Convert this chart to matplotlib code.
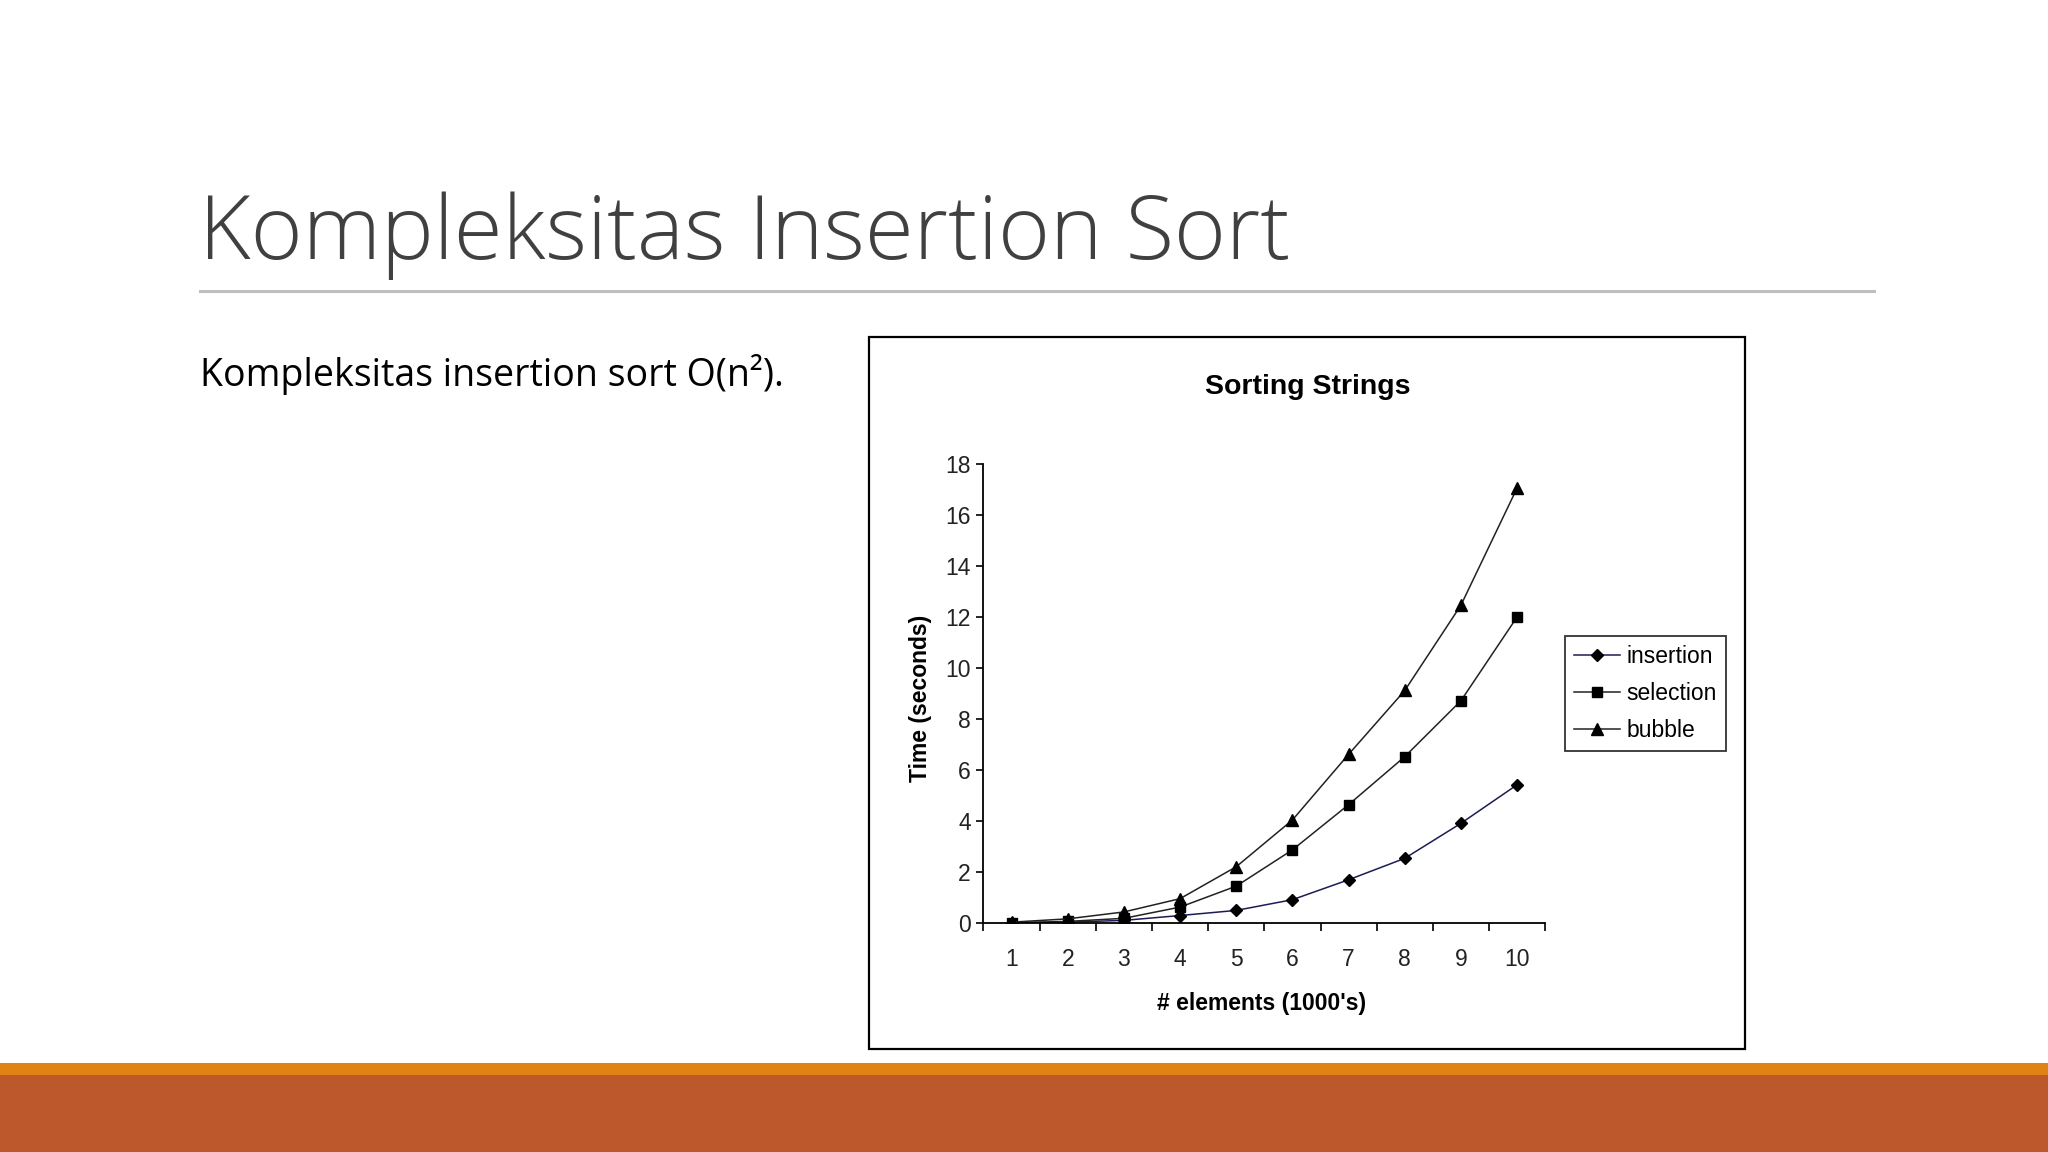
import matplotlib
matplotlib.use("Agg")
import matplotlib.pyplot as plt
from matplotlib.patches import Rectangle
from matplotlib.ticker import MultipleLocator, FixedLocator

# data
n_elements = [1, 2, 3, 4, 5, 6, 7, 8, 9, 10]
insertion = [0.02, 0.05, 0.12, 0.31, 0.51, 0.93, 1.71, 2.55, 3.92, 5.43]
selection = [0.03, 0.08, 0.20, 0.64, 1.46, 2.88, 4.65, 6.53, 8.72, 12.0]
bubble = [0.05, 0.18, 0.45, 0.97, 2.22, 4.05, 6.62, 9.12, 12.46, 17.05]

slide_title = "Kompleksitas Insertion Sort"
body_text = "Kompleksitas insertion sort O(n\u00b2)."

fig = plt.figure(figsize=(20.48, 11.52), dpi=100)
fig.patch.set_facecolor("white")

# slide decoration
fig.text(0.097, 0.7755, slide_title, fontsize=64, family="Open Sans",
         weight="light", color="#404040", va="baseline", ha="left")
fig.add_artist(plt.Line2D([0.0976, 0.9152], [0.7474, 0.7474],
                          color="#bfbfbf", lw=2.2, transform=fig.transFigure))
fig.text(0.0976, 0.6645, body_text, fontsize=27, family="Open Sans",
         color="black", va="baseline", ha="left")
fig.add_artist(Rectangle((0, 0.0668), 1, 0.0105, transform=fig.transFigure,
                         facecolor="#E08314", edgecolor="none"))
fig.add_artist(Rectangle((0, 0), 1, 0.0668, transform=fig.transFigure,
                         facecolor="#BC582C", edgecolor="none"))

# embedded chart frame
fig.add_artist(Rectangle((0.4241, 0.0896), 0.4279, 0.6179, transform=fig.transFigure,
                         facecolor="white", edgecolor="black", lw=1.6, zorder=0))

chart_font = "Liberation Sans"
ax = fig.add_axes([0.4802, 0.1984, 0.2743, 0.3991])
ax.plot(n_elements, insertion, color="#1c1c55", lw=1.1, marker="D", ms=6,
        mfc="black", mec="black", label="insertion")
ax.plot(n_elements, selection, color="#222222", lw=1.1, marker="s", ms=7.5,
        mfc="black", mec="black", label="selection")
ax.plot(n_elements, bubble, color="#222222", lw=1.1, marker="^", ms=8.5,
        mfc="black", mec="black", label="bubble")

ax.set_xlim(0.5, 10.5)
ax.set_ylim(0, 18)
ax.yaxis.set_major_locator(MultipleLocator(2))
ax.xaxis.set_major_locator(FixedLocator(n_elements))
ax.xaxis.set_minor_locator(FixedLocator([x + 0.5 for x in range(0, 11)]))
ax.tick_params(axis="x", which="major", length=0, pad=18)
ax.tick_params(axis="x", which="minor", length=6, width=1.2, direction="out")
ax.tick_params(axis="y", which="major", length=5, width=1.2, direction="out", pad=4)
for lab in ax.get_xticklabels() + ax.get_yticklabels():
    lab.set_fontfamily(chart_font)
    lab.set_fontsize(16.5)
    lab.set_color("#222222")
for side in ("top", "right"):
    ax.spines[side].set_visible(False)
for side in ("left", "bottom"):
    ax.spines[side].set_linewidth(1.3)
ax.set_facecolor("none")

ax.set_ylabel("Time (seconds)", fontsize=16.5, weight="bold", family=chart_font)
ax.yaxis.set_label_coords(-0.092, 0.49)
ax.set_xlabel("# elements (1000's)", fontsize=16.5, weight="bold", family=chart_font)
ax.xaxis.set_label_coords(0.495, -0.15)

fig.text(0.6384, 0.6644, "Sorting Strings", fontsize=20.5, weight="bold",
         family=chart_font, ha="center", va="center")

leg = fig.legend(loc="upper left", bbox_to_anchor=(0.764, 0.4478),
                 bbox_transform=fig.transFigure, frameon=True, fancybox=False,
                 prop={"family": chart_font, "size": 16.5}, handlelength=2.0,
                 handletextpad=0.3, borderpad=0.4, labelspacing=0.6,
                 borderaxespad=0)
leg.get_frame().set_edgecolor("black")
leg.get_frame().set_linewidth(1.3)

fig.savefig("out.png", dpi=100)
